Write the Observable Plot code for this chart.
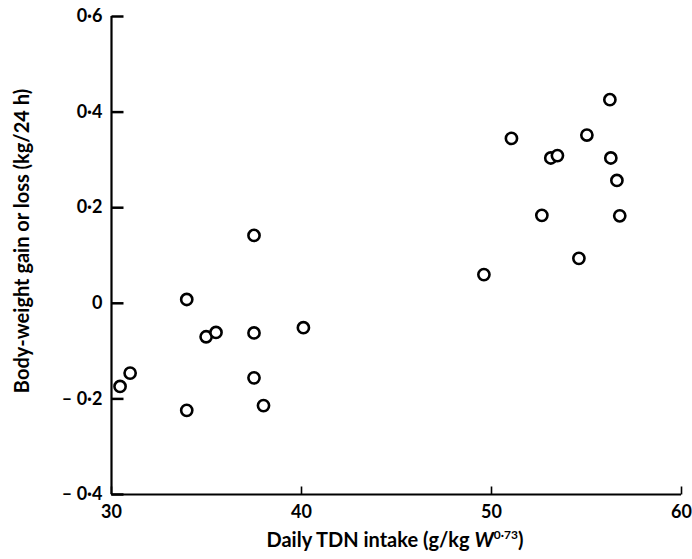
<!DOCTYPE html>
<html>
<head>
<meta charset="utf-8">
<script src="https://cdn.jsdelivr.net/npm/d3@7"></script>
<script src="https://cdn.jsdelivr.net/npm/@observablehq/plot@0.6"></script>
<style>
  html, body { margin: 0; padding: 0; background: #fff; }
  #chart svg { display: block; }
</style>
</head>
<body>
<div id="chart"></div>
<script>
// Daily TDN intake (g/kg W^0.73)
const tdnIntake = [30.45, 30.98, 33.96, 33.96, 34.98, 35.5, 37.5, 37.5, 37.5, 38.0, 40.1,
                   49.6, 51.05, 52.65, 53.12, 53.47, 54.6, 55.02, 56.23, 56.28, 56.6, 56.75];
// Body-weight gain or loss (kg/24 h)
const weightChange = [-0.174, -0.146, 0.008, -0.224, -0.070, -0.061, 0.142, -0.062, -0.156, -0.214, -0.051,
                      0.060, 0.345, 0.184, 0.304, 0.309, 0.094, 0.352, 0.426, 0.304, 0.257, 0.183];
const xTicks = [30, 40, 50, 60];
const yTicks = [-0.4, -0.2, 0, 0.2, 0.4, 0.6];
const xLabel = "Daily TDN intake (g/kg ";
const yLabel = "Body-weight gain or loss (kg/24 h)";

const points = tdnIntake.map((x, i) => ({x, y: weightChange[i]}));

const W = 692, H = 559, mL = 111, mR = 11, mT = 16, mB = 65;
const frameW = W - mL - mR, frameH = H - mT - mB;
const xDomain = [30, 60], yDomain = [-0.4, 0.6];
// inward tick lengths (pixels) converted to data units
const yTickLen = 12 * (xDomain[1] - xDomain[0]) / frameW;
const xTickLen = 8 * (yDomain[1] - yDomain[0]) / frameH;
const FONT = "Lato, 'DejaVu Sans', sans-serif";

const fmtY = d => {
  if (Math.abs(d) < 1e-9) return "0";
  const s = Math.abs(d).toFixed(1).replace(".", "\u00B7");
  return d < 0 ? "\u2013 " + s : s;
};

const yTickData = yTicks.map(v => ({v, a: xDomain[0], b: xDomain[0] + yTickLen}));
const xTickData = xTicks.map(v => ({v, a: yDomain[0], b: yDomain[0] + xTickLen}));

const plot = Plot.plot({
  width: W, height: H,
  marginLeft: mL, marginRight: mR, marginTop: mT, marginBottom: mB,
  style: {fontFamily: FONT, color: "#000", background: "#fff"},
  x: {domain: xDomain},
  y: {domain: yDomain},
  marks: [
    Plot.axisX({ticks: xTicks, tickSize: 0, tickPadding: 11, tickFormat: d => String(d), fontSize: 18, fontWeight: "bold", label: null}),
    Plot.axisY({ticks: yTicks, tickSize: 0, tickPadding: 9, tickFormat: fmtY, fontSize: 18, fontWeight: "bold", label: null}),
    Plot.ruleX([xDomain[0]], {stroke: "#000", strokeWidth: 2.2}),
    Plot.ruleY([yDomain[0]], {stroke: "#000", strokeWidth: 2.2}),
    Plot.link(yTickData, {x1: "a", x2: "b", y1: "v", y2: "v", stroke: "#000", strokeWidth: 2.5}),
    Plot.link(xTickData, {x1: "v", x2: "v", y1: "a", y2: "b", stroke: "#000", strokeWidth: 1.6}),
    Plot.dot(points, {x: "x", y: "y", r: 5.6, stroke: "#000", strokeWidth: 2.6, fill: "#fff"})
  ]
});

const svg = d3.select(plot);
// y-axis title
svg.append("text")
  .attr("transform", "translate(29,241) rotate(-90)")
  .attr("text-anchor", "middle")
  .attr("font-family", FONT)
  .attr("font-weight", "bold")
  .attr("font-size", 20)
  .attr("fill", "#000")
  .text(yLabel);
// x-axis title with italic W and superscript exponent
const xt = svg.append("text")
  .attr("x", 395).attr("y", 547)
  .attr("text-anchor", "middle")
  .attr("font-family", FONT)
  .attr("font-weight", "bold")
  .attr("font-size", 20)
  .attr("fill", "#000");
xt.append("tspan").text(xLabel);
xt.append("tspan").attr("font-style", "italic").text("W");
xt.append("tspan").attr("font-size", 12).attr("dy", -8).text("0\u00B773");
xt.append("tspan").attr("dy", 8).text(")");

document.getElementById("chart").appendChild(plot);
</script>
</body>
</html>
